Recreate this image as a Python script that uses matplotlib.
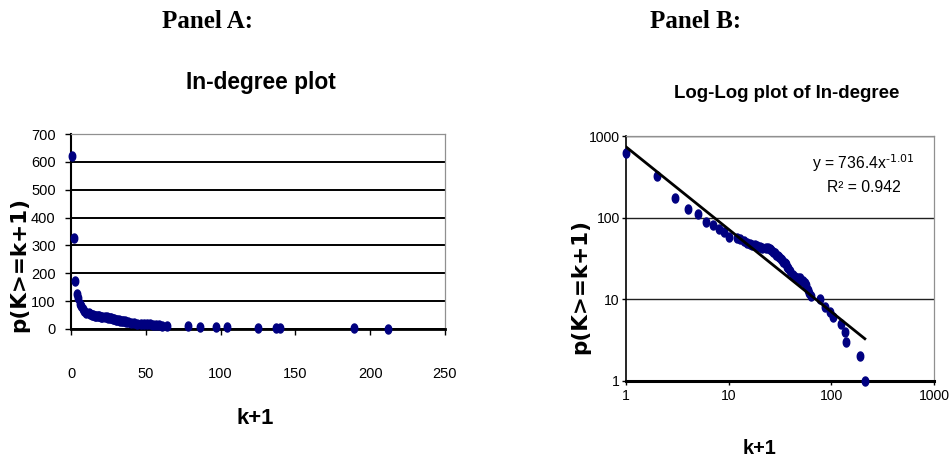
import matplotlib
matplotlib.use('Agg')
import matplotlib.pyplot as plt
from matplotlib import font_manager
import numpy as np

# ---------------- data ----------------
k_plus_1 = [1, 2, 3, 4, 5, 6, 7, 8, 9, 10,
            12, 13, 14, 15, 16, 17, 18, 19, 20, 21,
            23, 24, 25, 26, 27, 28, 29, 30, 31, 32, 33, 34, 35, 36, 37, 38,
            40, 42, 44, 47, 49, 51, 53, 55, 57, 59, 61, 64,
            78, 86, 97, 104, 125, 137, 140, 189, 212]
counts = [620, 325, 172, 126, 112, 88, 82, 72, 66, 58,
          56, 55, 52, 49, 47, 46, 46, 45, 44, 43,
          42, 42, 41, 40, 38, 37, 35, 34, 33, 31, 30, 29, 28, 27, 25, 24,
          22, 20, 19, 18, 18, 17, 17, 16, 15, 13, 12, 11,
          10, 8, 7, 6, 5, 4, 3, 2, 1]
fit_coef = 736.4
fit_exp = -1.01
r_squared = 0.942

x_ticks_a = [0, 50, 100, 150, 200, 250]
y_ticks_a = [0, 100, 200, 300, 400, 500, 600, 700]
x_ticks_b = [1, 10, 100, 1000]
y_ticks_b = [1, 10, 100, 1000]


def has_font(name):
    try:
        font_manager.findfont(name, fallback_to_default=False)
        return True
    except Exception:
        return False


NARROW = has_font('Liberation Sans Narrow')
NF = 'Liberation Sans Narrow' if NARROW else 'Liberation Sans'
S = 1.0 if NARROW else 0.84

plt.rcParams['mathtext.default'] = 'regular'

W, H = 949, 468
fig = plt.figure(figsize=(W / 100, H / 100), dpi=100)


def fx(px):
    return px / W


def fy(py):
    return 1 - py / H


navy = '#000080'
t = np.linspace(0, 2 * np.pi, 40)
ellipse = list(zip(0.36 * np.cos(t), 0.5 * np.sin(t)))

# ---------------- Panel A ----------------
axA = fig.add_axes([fx(71), fy(329), fx(445) - fx(71), fy(134) - fy(329)])
axA.set_xlim(0, 250)
axA.set_ylim(0, 700)
axA.set_axisbelow(True)
axA.yaxis.grid(True, color='black', lw=1.4)
axA.plot(k_plus_1, counts, linestyle='none', marker=ellipse, markersize=6.5,
         color=navy, markeredgecolor=navy, zorder=3, clip_on=False)
axA.set_xticks(x_ticks_a)
axA.set_yticks(y_ticks_a)
axA.set_xticklabels([str(v) for v in x_ticks_a], fontfamily=NF, fontsize=12.5 * S)
axA.set_yticklabels([str(v) for v in y_ticks_a], fontfamily=NF, fontsize=12.5 * S)
axA.tick_params(axis='y', direction='out', length=4, width=1, pad=7)
axA.tick_params(axis='x', direction='out', length=4, width=1, pad=23)
for s in ['top', 'right']:
    axA.spines[s].set_color('#909090')
    axA.spines[s].set_linewidth(0.9)
axA.spines['left'].set_linewidth(1.5)
axA.spines['bottom'].set_linewidth(2.0)

# ---------------- Panel B ----------------
axB = fig.add_axes([fx(626), fy(381), fx(934) - fx(626), fy(136) - fy(381)])
axB.set_xscale('log')
axB.set_yscale('log')
axB.set_xlim(1, 1000)
axB.set_ylim(1, 1000)
axB.set_axisbelow(True)
axB.yaxis.grid(True, which='major', color='#202020', lw=1.0)
axB.plot(k_plus_1, counts, linestyle='none', marker=ellipse, markersize=6.5,
         color=navy, markeredgecolor=navy, zorder=3, clip_on=False)
xs = np.logspace(0, np.log10(max(k_plus_1)), 100)
axB.plot(xs, fit_coef * xs ** fit_exp, color='black', lw=2.0, zorder=4)
axB.set_xticks(x_ticks_b)
axB.set_yticks(y_ticks_b)
axB.xaxis.set_minor_locator(matplotlib.ticker.NullLocator())
axB.yaxis.set_minor_locator(matplotlib.ticker.NullLocator())
axB.set_xticklabels([str(v) for v in x_ticks_b], fontfamily=NF, fontsize=12 * S)
axB.set_yticklabels([str(v) for v in y_ticks_b], fontfamily=NF, fontsize=12 * S)
axB.tick_params(axis='y', direction='out', length=3, width=1, pad=1.5)
axB.tick_params(axis='x', direction='out', length=3, width=1, pad=3)
for s in ['top', 'right']:
    axB.spines[s].set_color('#909090')
    axB.spines[s].set_linewidth(0.9)
axB.spines['left'].set_linewidth(1.2)
axB.spines['bottom'].set_linewidth(2.2)

axB.text(fx(863), fy(163), r'y = %.1fx$^{\text{%.2f}}$' % (fit_coef, fit_exp),
         transform=fig.transFigure, ha='center', va='center',
         fontfamily=NF, fontsize=13.5 * S)
axB.text(fx(864), fy(188), 'R² = %.3f' % r_squared,
         transform=fig.transFigure, ha='center', va='center',
         fontfamily=NF, fontsize=13.5 * S)

# ---------------- texts ----------------
fig.text(fx(208), fy(21), 'Panel A:', ha='center', va='center',
         fontfamily='Liberation Serif', fontweight='bold', fontsize=18)
fig.text(fx(696), fy(21), 'Panel B:', ha='center', va='center',
         fontfamily='Liberation Serif', fontweight='bold', fontsize=18)
fig.text(fx(261), fy(83), 'In-degree plot', ha='center', va='center',
         fontfamily=NF, fontweight='bold', fontsize=19.5 * S)
fig.text(fx(787), fy(93), 'Log-Log plot of In-degree', ha='center', va='center',
         fontfamily=NF, fontweight='bold', fontsize=16 * S)
fig.text(fx(255), fy(418), 'k+1', ha='center', va='center',
         fontfamily=NF, fontweight='bold', fontsize=19 * S)
fig.text(fx(760), fy(448), 'k+1', ha='center', va='center',
         fontfamily=NF, fontweight='bold', fontsize=17 * S)
fig.text(fx(19), fy(264), 'p(K>=k+1)', ha='center', va='center', rotation=90,
         fontfamily='DejaVu Sans', fontweight='bold', fontsize=15.5)
fig.text(fx(580), fy(287), 'p(K>=k+1)', ha='center', va='center', rotation=90,
         fontfamily='DejaVu Sans', fontweight='bold', fontsize=15.5)

fig.savefig('out.png', dpi=100)
